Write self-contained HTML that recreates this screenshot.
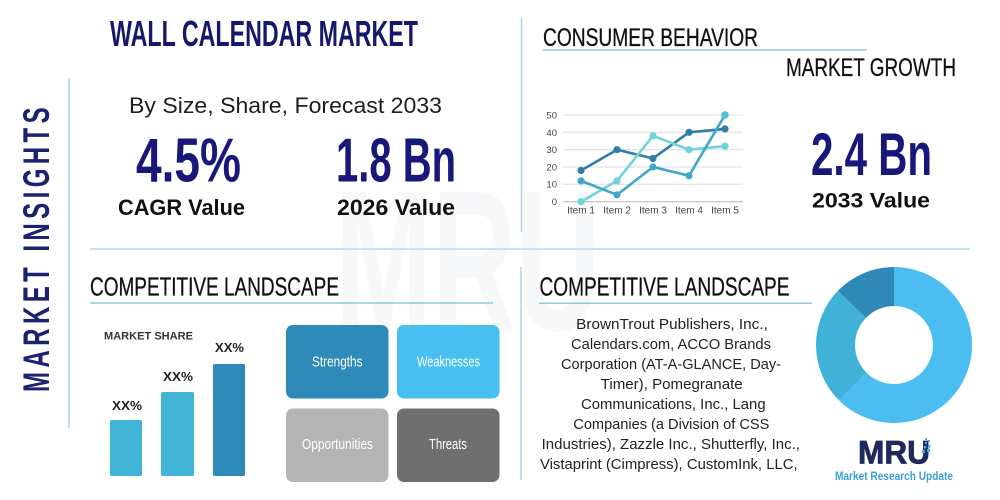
<!DOCTYPE html>
<html>
<head>
<meta charset="utf-8">
<style>
  html,body{margin:0;padding:0;background:#fff;}
  svg{display:block;}
  text{font-family:"Liberation Sans",sans-serif;}
</style>
</head>
<body>
<svg width="1000" height="500" viewBox="0 0 1000 500" xmlns="http://www.w3.org/2000/svg">
  <rect x="0" y="0" width="1000" height="500" fill="#ffffff"/>

  <!-- faint watermark -->
  <text x="335" y="330" font-size="200" font-weight="bold" fill="#f7f8fa" textLength="265" lengthAdjust="spacingAndGlyphs">MRU</text>

  <!-- dividers -->
  <line x1="69" y1="78" x2="69" y2="428" stroke="#a9d6e5" stroke-width="1.5"/>
  <line x1="521.5" y1="18" x2="521.5" y2="232" stroke="#a9d6e5" stroke-width="1.5"/>
  <line x1="521" y1="267" x2="521" y2="480" stroke="#a9d6e5" stroke-width="1.5"/>
  <line x1="90" y1="249" x2="970" y2="249" stroke="#b2dde9" stroke-width="1.5"/>

  <!-- vertical MARKET INSIGHTS -->
  <text transform="translate(49,392) rotate(-90) scale(0.65,1)" x="0" y="0" font-size="37" font-weight="bold" fill="#1b2270" textLength="438" lengthAdjust="spacing">MARKET INSIGHTS</text>

  <!-- Title -->
  <text x="110" y="46" font-size="36" font-weight="bold" fill="#15196b" textLength="308" lengthAdjust="spacingAndGlyphs">WALL CALENDAR MARKET</text>

  <text x="129" y="113" font-size="22" fill="#1e1e1e" textLength="313" lengthAdjust="spacingAndGlyphs">By Size, Share, Forecast 2033</text>

  <text x="136" y="181.5" font-size="62" font-weight="bold" fill="#17187a" textLength="105" lengthAdjust="spacingAndGlyphs">4.5%</text>
  <text x="336" y="181.5" font-size="62" font-weight="bold" fill="#17187a" textLength="120" lengthAdjust="spacingAndGlyphs">1.8 Bn</text>

  <text x="118" y="215" font-size="22" font-weight="bold" fill="#111" textLength="127" lengthAdjust="spacingAndGlyphs">CAGR Value</text>
  <text x="337" y="215" font-size="22" font-weight="bold" fill="#111" textLength="118" lengthAdjust="spacingAndGlyphs">2026 Value</text>

  <!-- Consumer behavior -->
  <text x="543" y="46" font-size="25" fill="#111" stroke="#111" stroke-width="0.3" textLength="215" lengthAdjust="spacingAndGlyphs">CONSUMER BEHAVIOR</text>
  <line x1="543" y1="50" x2="867" y2="50" stroke="#8fcadb" stroke-width="1.5"/>
  <text x="786" y="76" font-size="25" fill="#111" stroke="#111" stroke-width="0.3" textLength="170" lengthAdjust="spacingAndGlyphs">MARKET GROWTH</text>

  <!-- line chart -->
  <g stroke="#dcdcdc" stroke-width="1">
    <line x1="563" y1="115" x2="743" y2="115"/>
    <line x1="563" y1="132.3" x2="743" y2="132.3"/>
    <line x1="563" y1="149.7" x2="743" y2="149.7"/>
    <line x1="563" y1="167" x2="743" y2="167"/>
    <line x1="563" y1="184.3" x2="743" y2="184.3"/>
  </g>
  <line x1="563" y1="201.7" x2="743" y2="201.7" stroke="#b5b5b5" stroke-width="1"/>
  <g font-size="9.5" fill="#444" text-anchor="end">
    <text x="557" y="118.5">50</text>
    <text x="557" y="135.8">40</text>
    <text x="557" y="153">30</text>
    <text x="557" y="170.3">20</text>
    <text x="557" y="187.6">10</text>
    <text x="557" y="205">0</text>
  </g>
  <g font-size="10" fill="#444" text-anchor="middle">
    <text x="581" y="213.5">Item 1</text>
    <text x="617" y="213.5">Item 2</text>
    <text x="653" y="213.5">Item 3</text>
    <text x="689" y="213.5">Item 4</text>
    <text x="725" y="213.5">Item 5</text>
  </g>
  <!-- dark series -->
  <polyline points="581,170.5 617,149.7 653,158.4 689,132.3 725,128.9" fill="none" stroke="#2e7ea6" stroke-width="2.6" stroke-linejoin="round"/>
  <g fill="#2e7ea6">
    <circle cx="581" cy="170.5" r="3.6"/><circle cx="617" cy="149.7" r="3.6"/><circle cx="653" cy="158.4" r="3.6"/><circle cx="689" cy="132.3" r="3.6"/><circle cx="725" cy="128.9" r="3.6"/>
  </g>
  <!-- light series -->
  <polyline points="581,201.7 617,180.9 653,135.8 689,149.7 725,146.2" fill="none" stroke="#6fd3d9" stroke-width="2.6" stroke-linejoin="round"/>
  <g fill="#6fd3d9">
    <circle cx="581" cy="201.7" r="3.6"/><circle cx="617" cy="180.9" r="3.6"/><circle cx="653" cy="135.8" r="3.6"/><circle cx="689" cy="149.7" r="3.6"/><circle cx="725" cy="146.2" r="3.6"/>
  </g>
  <!-- medium series -->
  <polyline points="581,180.9 617,194.8 653,167 689,175.7 725,115" fill="none" stroke="#3fa7c7" stroke-width="2.6" stroke-linejoin="round"/>
  <g fill="#3fa7c7">
    <circle cx="581" cy="180.9" r="3.6"/><circle cx="617" cy="194.8" r="3.6"/><circle cx="653" cy="167" r="3.6"/><circle cx="689" cy="175.7" r="3.6"/>
  </g>
  <circle cx="725" cy="115" r="3.8" fill="#4fbfd3"/>

  <text x="811" y="175" font-size="60" font-weight="bold" fill="#17187a" textLength="121" lengthAdjust="spacingAndGlyphs">2.4 Bn</text>
  <text x="812" y="207.5" font-size="21" font-weight="bold" fill="#111" textLength="118" lengthAdjust="spacingAndGlyphs">2033 Value</text>

  <!-- Competitive landscape left -->
  <text x="90" y="295.7" font-size="26" fill="#111" stroke="#111" stroke-width="0.3" textLength="249" lengthAdjust="spacingAndGlyphs">COMPETITIVE LANDSCAPE</text>
  <line x1="90" y1="303" x2="493" y2="303" stroke="#8fcadb" stroke-width="1.5"/>

  <text x="104" y="339.5" font-size="11" font-weight="bold" fill="#333" textLength="89" lengthAdjust="spacingAndGlyphs">MARKET SHARE</text>

  <rect x="110" y="420" width="32" height="56" rx="2" fill="#42b5d6"/>
  <rect x="161" y="392" width="33" height="84" rx="2" fill="#42b5d6"/>
  <rect x="213" y="364" width="32" height="112" rx="2" fill="#2e8ab8"/>
  <g font-size="13" font-weight="bold" fill="#222">
    <text x="112" y="410" textLength="30" lengthAdjust="spacingAndGlyphs">XX%</text>
    <text x="163" y="381" textLength="30" lengthAdjust="spacingAndGlyphs">XX%</text>
    <text x="215" y="352" textLength="29" lengthAdjust="spacingAndGlyphs">XX%</text>
  </g>

  <!-- SWOT -->
  <rect x="286" y="325" width="102.5" height="73.5" rx="7" fill="#2e8ab8"/>
  <rect x="397" y="325" width="102.5" height="73.5" rx="7" fill="#47bff0"/>
  <rect x="286" y="408.5" width="102.5" height="73.5" rx="7" fill="#b4b4b4"/>
  <rect x="397" y="408.5" width="102.5" height="73.5" rx="7" fill="#6f6f6f"/>
  <g font-size="15" fill="#ffffff">
    <text x="312" y="366.7" textLength="50.5" lengthAdjust="spacingAndGlyphs">Strengths</text>
    <text x="417" y="366.7" textLength="63" lengthAdjust="spacingAndGlyphs">Weaknesses</text>
    <text x="302" y="449" textLength="71" lengthAdjust="spacingAndGlyphs">Opportunities</text>
    <text x="429" y="449" textLength="38" lengthAdjust="spacingAndGlyphs">Threats</text>
  </g>

  <!-- Competitive landscape right -->
  <text x="539.5" y="295.7" font-size="26" fill="#111" stroke="#111" stroke-width="0.3" textLength="250" lengthAdjust="spacingAndGlyphs">COMPETITIVE LANDSCAPE</text>
  <line x1="539" y1="303.3" x2="812" y2="303.3" stroke="#8fcadb" stroke-width="1.5"/>

  <g font-size="15" fill="#222" text-anchor="middle">
    <text x="672" y="329" textLength="191.7" lengthAdjust="spacingAndGlyphs">BrownTrout Publishers, Inc.,</text>
    <text x="671" y="349" textLength="200" lengthAdjust="spacingAndGlyphs">Calendars.com, ACCO Brands</text>
    <text x="671" y="369" textLength="220" lengthAdjust="spacingAndGlyphs">Corporation (AT-A-GLANCE, Day-</text>
    <text x="671.7" y="389" textLength="142" lengthAdjust="spacingAndGlyphs">Timer), Pomegranate</text>
    <text x="673.3" y="409" textLength="184.7" lengthAdjust="spacingAndGlyphs">Communications, Inc., Lang</text>
    <text x="671.3" y="429" textLength="196" lengthAdjust="spacingAndGlyphs">Companies (a Division of CSS</text>
    <text x="670.8" y="449" textLength="258.3" lengthAdjust="spacingAndGlyphs">Industries), Zazzle Inc., Shutterfly, Inc.,</text>
    <text x="668.8" y="469" textLength="257.7" lengthAdjust="spacingAndGlyphs">Vistaprint (Cimpress), CustomInk, LLC,</text>
  </g>

  <!-- donut -->
  <path d="M 894 267 A 78 78 0 1 1 838.85 400.15 L 866.42 372.58 A 39 39 0 1 0 894 306 Z" fill="#4cbdf0"/>
  <path d="M 838.85 400.15 A 78 78 0 0 1 837.89 290.81 L 865.95 317.91 A 39 39 0 0 0 866.42 372.58 Z" fill="#40b1d7"/>
  <path d="M 837.89 290.81 A 78 78 0 0 1 894 267 L 894 306 A 39 39 0 0 0 865.95 317.91 Z" fill="#2e89b8"/>

  <!-- MRU logo -->
  <text x="858" y="463.5" font-size="32" font-weight="bold" fill="#1e2a5c" stroke="#1e2a5c" stroke-width="0.8" textLength="72" lengthAdjust="spacingAndGlyphs">MRU</text>
  <g fill="#4aa8e0">
    <rect x="925" y="438" width="2" height="2"/>
    <rect x="928" y="440" width="2" height="2"/>
    <rect x="925" y="442" width="2" height="2"/>
    <rect x="928" y="445" width="2.5" height="2.5"/>
    <rect x="924" y="446" width="2.5" height="2.5"/>
    <rect x="927" y="449" width="3" height="3"/>
    <rect x="922" y="450" width="3" height="3"/>
  </g>
  <text x="835" y="480" font-size="12" font-weight="bold" fill="#3a9fd8" textLength="118" lengthAdjust="spacingAndGlyphs">Market Research Update</text>
</svg>
</body>
</html>
